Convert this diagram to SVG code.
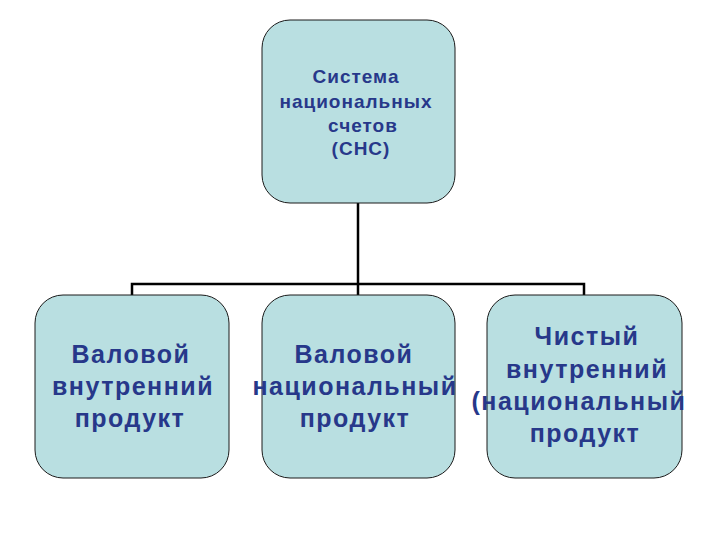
<svg xmlns="http://www.w3.org/2000/svg" width="720" height="540" viewBox="0 0 720 540">
<style>
.box{fill:#b9dfe1;stroke:#1a1a1a;stroke-width:1}
.t{font-family:"Liberation Sans",Arial,sans-serif;font-weight:bold;fill:#27388a;text-anchor:middle}
.s{font-size:19px;letter-spacing:1px}
.b{font-size:25px;letter-spacing:1.5px}
.c{fill:none;stroke:#000;stroke-width:2.5}
</style>
<rect width="720" height="540" fill="#fff"/>
<g id="connectors">
<path class="c" d="M358,203 V295"/>
<path class="c" d="M132,295 V284 H584 V295"/>
</g>
<g id="root">
<rect class="box" x="262" y="20" width="193" height="183" rx="28"/>
<text class="t s" x="356" y="83">Система</text>
<text class="t s" x="356" y="108">национальных</text>
<text class="t s" x="363" y="132">счетов</text>
<text class="t s" x="361" y="155">(СНС)</text>
</g>
<g id="gdp">
<rect class="box" x="35" y="295" width="194" height="183" rx="28"/>
<text class="t b" x="131" y="363">Валовой</text>
<text class="t b" x="133" y="395">внутренний</text>
<text class="t b" x="130" y="427">продукт</text>
</g>
<g id="gnp">
<rect class="box" x="262" y="295" width="193" height="183" rx="28"/>
<text class="t b" x="354" y="363">Валовой</text>
<text class="t b" x="355" y="395">национальный</text>
<text class="t b" x="355" y="427">продукт</text>
</g>
<g id="nnp">
<rect class="box" x="487" y="295" width="195" height="183" rx="28"/>
<text class="t b" x="587" y="345">Чистый</text>
<text class="t b" x="587" y="378">внутренний</text>
<text class="t b" x="579" y="410">(национальный</text>
<text class="t b" x="585" y="442">продукт</text>
</g>
</svg>
